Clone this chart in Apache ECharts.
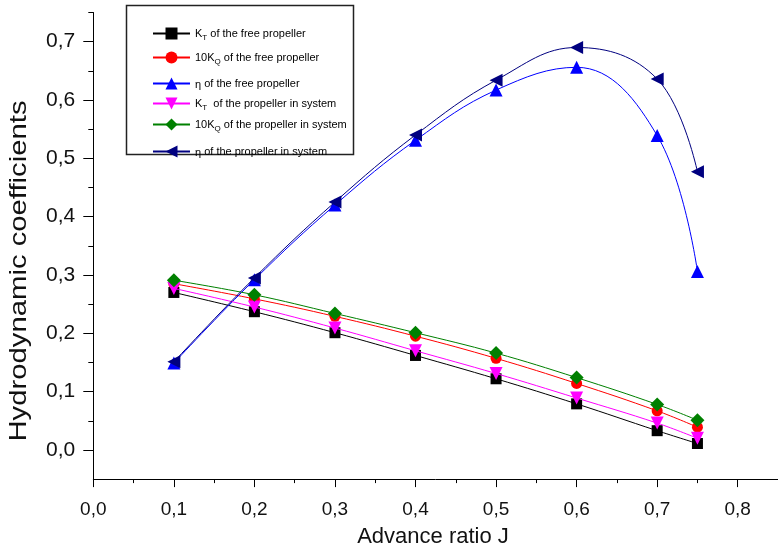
<!DOCTYPE html>
<html>
<head>
<meta charset="utf-8">
<script src="https://cdn.jsdelivr.net/npm/echarts@6/dist/echarts.min.js"></script>
<style>
html,body{margin:0;padding:0;background:#fff;}
#chart{width:778px;height:550px;}
</style>
</head>
<body>
<div id="chart"></div>
<script>
// ---- data ----
const J = [0.1, 0.2, 0.3, 0.4, 0.5, 0.6, 0.7, 0.75];
const KT_free   = [0.270, 0.237, 0.201, 0.162, 0.122, 0.079, 0.033, 0.011];
const KQ10_free = [0.285, 0.259, 0.229, 0.195, 0.157, 0.114, 0.067, 0.039];
const ETA_free  = [0.149, 0.292, 0.420, 0.531, 0.617, 0.656, 0.539, 0.306];
const KT_sys    = [0.277, 0.245, 0.209, 0.170, 0.131, 0.089, 0.046, 0.020];
const KQ10_sys  = [0.291, 0.266, 0.234, 0.201, 0.166, 0.124, 0.078, 0.051];
const ETA_sys   = [0.151, 0.295, 0.425, 0.540, 0.634, 0.690, 0.636, 0.477];

const xMajorTicks = [0, 0.1, 0.2, 0.3, 0.4, 0.5, 0.6, 0.7, 0.8];
const xMinorTicks = [0.05, 0.15, 0.25, 0.35, 0.45, 0.55, 0.65, 0.75];
const yMajorTicks = [0, 0.1, 0.2, 0.3, 0.4, 0.5, 0.6, 0.7];
const yMinorTicks = [0.05, 0.15, 0.25, 0.35, 0.45, 0.55, 0.65, 0.75];

const seriesNames = [
  'KT of the free propeller',
  '10KQ of the free propeller',
  'eta of the free propeller',
  'KT of the propeller in system',
  '10KQ of the propeller in system',
  'eta of the propeller in system'
];
const legendLabels = [
  '{n|K}{s|T}{n| of the free propeller}',
  '{n|10K}{s|Q}{n| of the free propeller}',
  '{e|η}{n| of the free propeller}',
  '{n|K}{s|T}{n|  of the propeller in system}',
  '{n|10K}{s|Q}{n| of the propeller in system}',
  '{e|η}{n| of the propeller in system}'
];
const seriesValues = [KT_free, KQ10_free, ETA_free, KT_sys, KQ10_sys, ETA_sys];
const seriesColors = ['#000000', '#ff0000', '#0000ff', '#ff00ff', '#008000', '#000080'];
const seriesSymbols = ['rect', 'circle', 'triangle', 'triangle', 'diamond', 'triangle'];
const seriesRotate = [0, 0, 0, 180, 0, 90];
const seriesSymbolSize = [11, 11, 13, 13, 14, 13];
const legendY = [30, 54, 80, 100, 121, 148];

const FONT = '"Liberation Sans", Arial, sans-serif';
const fmt = v => (Math.round(v * 10) / 10).toFixed(1).replace('.', ',');

const chart = echarts.init(document.getElementById('chart'), null, {renderer: 'canvas'});

const series = seriesNames.map((name, i) => ({
  name: name,
  type: 'line',
  xAxisIndex: 0,
  yAxisIndex: 0,
  data: J.map((x, k) => [x, seriesValues[i][k]]),
  smooth: 0.4,
  symbol: seriesSymbols[i],
  symbolRotate: seriesRotate[i],
  symbolSize: seriesSymbolSize[i],
  lineStyle: {color: seriesColors[i], width: 1},
  itemStyle: {color: seriesColors[i]},
  emphasis: {disabled: true},
  z: 2 + i
}));

const legends = seriesNames.map((name, i) => ({
  data: [name],
  left: 147,
  top: legendY[i] - 7.5,
  itemWidth: 37,
  itemHeight: 15,
  selectedMode: false,
  formatter: () => legendLabels[i],
  textStyle: {
    color: '#000',
    fontFamily: FONT,
    rich: {
      n: {fontSize: 11, fontFamily: FONT, color: '#000'},
      e: {fontSize: 11, fontFamily: FONT, color: '#000', padding: [2, 0, 0, 0]},
      s: {fontSize: 8, fontFamily: FONT, color: '#000', padding: [8, 0, 0, 0]}
    }
  }
}));

const option = {
  animation: false,
  backgroundColor: '#ffffff',
  grid: {left: 93.3, top: 12.5, width: 689.8, height: 466.6, containLabel: false},
  legend: legends,
  xAxis: [{
    type: 'value', min: 0, max: 0.85, position: 'bottom',
    axisLine: {show: true, onZero: false, lineStyle: {color: '#000', width: 1}},
    axisTick: {show: true, inside: false, length: 8, customValues: xMajorTicks, lineStyle: {color: '#000', width: 1}},
    axisLabel: {show: true, customValues: xMajorTicks, formatter: fmt, margin: 21, color: '#111', fontSize: 19, fontFamily: FONT},
    splitLine: {show: false}
  }, {
    type: 'value', min: 0, max: 0.85, position: 'bottom',
    axisLine: {show: false, onZero: false},
    axisTick: {show: true, inside: false, length: 4, customValues: xMinorTicks, lineStyle: {color: '#000', width: 1}},
    axisLabel: {show: false},
    splitLine: {show: false}
  }],
  yAxis: [{
    type: 'value', min: -0.05, max: 0.75, position: 'left',
    axisLine: {show: true, onZero: false, lineStyle: {color: '#000', width: 1}},
    axisTick: {show: true, inside: false, length: 10, customValues: yMajorTicks, lineStyle: {color: '#000', width: 1}},
    axisLabel: {show: true, customValues: yMajorTicks, formatter: fmt, margin: 18, color: '#111', fontSize: 21, fontFamily: FONT},
    splitLine: {show: false}
  }, {
    type: 'value', min: -0.05, max: 0.75, position: 'left',
    axisLine: {show: false, onZero: false},
    axisTick: {show: true, inside: false, length: 5, customValues: yMinorTicks, lineStyle: {color: '#000', width: 1}},
    axisLabel: {show: false},
    splitLine: {show: false}
  }],
  graphic: [
    {type: 'rect', shape: {x: 126.5, y: 5.5, width: 227, height: 149}, style: {fill: 'none', stroke: '#222', lineWidth: 1.5}, z: 1},
    {type: 'text', x: 433, y: 537, style: {text: 'Advance ratio J', font: '22px ' + FONT, fill: '#111', textAlign: 'center', textVerticalAlign: 'middle'}},
    {type: 'text', x: 19, y: 271, rotation: Math.PI / 2, scaleX: 1.22, scaleY: 1, style: {text: 'Hydrodynamic coefficients', font: '24px ' + FONT, fill: '#111', textAlign: 'center', textVerticalAlign: 'middle'}}
  ],
  series: series
};
chart.setOption(option);
</script>
</body>
</html>
